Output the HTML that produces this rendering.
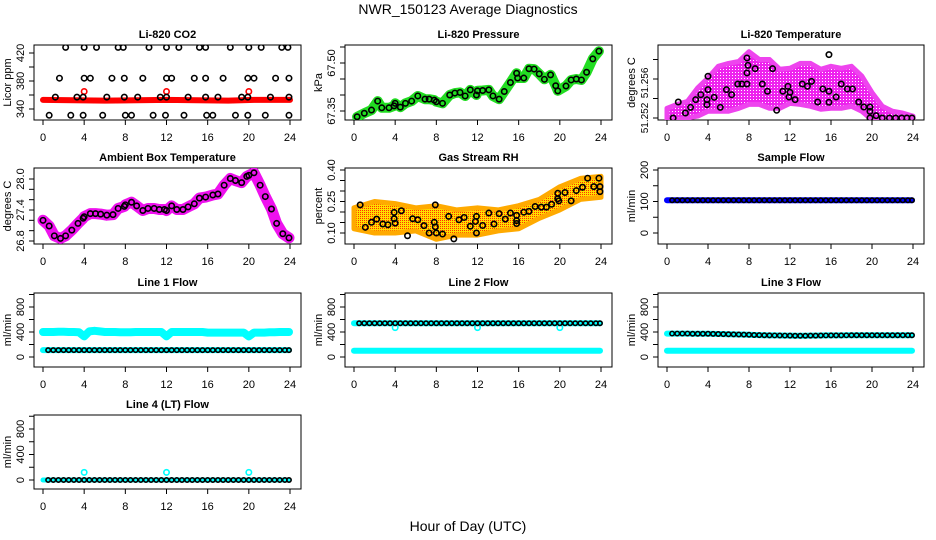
<!DOCTYPE html>
<html><head><meta charset="utf-8">
<style>
html,body{margin:0;padding:0;background:#fff;}
svg{display:block;font-family:"Liberation Sans",sans-serif;}
</style></head>
<body>
<svg id="chart" width="936" height="540" viewBox="0 0 936 540">
<defs>
<pattern id="rhpat" width="2" height="2" patternUnits="userSpaceOnUse">
<rect width="2" height="2" fill="#ffdd00"/><rect width="1" height="1" fill="#ff3300"/>
</pattern>
<pattern id="magpat" width="3" height="3" patternUnits="userSpaceOnUse">
<rect width="3" height="3" fill="#ee22ee"/><rect width="1" height="1" fill="#ffffff"/>
</pattern>
</defs>
<text x="468" y="14" text-anchor="middle" font-size="14">NWR_150123  Average Diagnostics</text>
<text x="468" y="531" text-anchor="middle" font-size="14">Hour of Day (UTC)</text>
</svg>
<script>
// ---------- data ----------
const hourTicks = [0,4,8,12,16,20,24];
// CO2
const co2BlackX = [2.2,4,5.2,7.3,7.8,10.3,12,13.2,15.2,15.8,18.2,20,21.2,23.2,23.8, 1.6,4,4.6,6.7,7.9,9.7,12,12.5,14.7,15.8,17.5,19.9,20.5,22.6,23.9, 1.2,3.3,3.9,6.2,7.9,9.2,11.4,12,14.1,15.8,17,19.3,19.9,22.1,23.9, 0.6,2.7,3.9,5.8,8,8.6,10.7,11.9,13.7,15.9,16.5,18.7,19.9,21.6,23.9];
const co2BlackY = [428,428,428,428,428,428,428,428,428,428,428,428,428,428,428, 384,384,384,384,384,384,384,384,384,384,384,384,384,384,384, 357,357,357,357,357,357,357,357,357,357,357,357,357,357,357, 331,331,331,331,331,331,331,331,331,331,331,331,331,331,331];
const co2RedLineX = [0,6,12,18,20.5,24];
const co2RedLineY = [353,352,353,352,353,353];
const co2RedPtsX = [4,12,20];
const co2RedPtsY = [365,365,365];
const co2Ticks = [340,360,380,400,420];
const co2Labels = ["340","380","420"];
// Pressure
const presX = [0.3,1,1.7,2.3,2.7,3.4,3.9,4,4.5,5,5.6,6.2,6.9,7.3,7.8,8,8.6,9.3,9.8,10.3,10.8,11.3,11.9,12,12.5,13.1,13.5,14.1,14.6,15.2,15.8,15.9,16.5,17,17.5,18,18.5,19.1,19.6,19.8,20.6,21.1,21.6,22.1,22.6,23.2,23.8];
const presY = [67.332,67.343,67.353,67.381,67.36,67.36,67.366,67.374,67.362,67.374,67.381,67.397,67.387,67.387,67.384,67.379,67.374,67.400,67.406,67.408,67.397,67.416,67.400,67.413,67.414,67.416,67.397,67.387,67.411,67.439,67.468,67.453,67.453,67.482,67.481,67.466,67.449,67.463,67.429,67.413,67.428,67.447,67.450,67.447,67.471,67.513,67.537];
const presTicks = [67.35,67.40,67.45,67.50,67.55];
const presLabels = ["67.35","67.50"];
// Li-820 temperature
const tempX = [0.6,1.1,1.8,2.3,2.8,3.3,3.9,4,3.9,4,4.6,5.2,5.8,6.3,6.9,7.3,7.8,7.8,7.9,7.8,8.6,9.3,9.8,10.3,10.7,11.3,11.8,11.9,12,12.5,13.2,13.7,14.1,14.7,15.2,15.8,15.8,15.8,16.5,17,17.6,18.1,18.7,19.2,19.8,19.8,19.8,20.4,21,21.7,22.3,22.9,23.4,23.9];
const tempY = [51.2520,51.25364,51.25251,51.25309,51.25388,51.25439,51.25388,51.25491,51.25337,51.25628,51.25412,51.25309,51.25491,51.25439,51.25549,51.25549,51.25549,51.25662,51.2574,51.25816,51.25706,51.25549,51.25474,51.25706,51.25279,51.25474,51.25525,51.25415,51.25463,51.25388,51.25549,51.25525,51.25576,51.25364,51.25498,51.2585,51.25474,51.25361,51.25415,51.25549,51.25498,51.25498,51.25364,51.25313,51.25313,51.25268,51.2520,51.25224,51.2520,51.2520,51.2520,51.2520,51.2520,51.2520];
const tempBandHours = [0,1,2,3,4,5,6,7,8,9,10,11,12,13,14,15,16,17,18,19,20,21,22,23,24];
const tempBandHi = [51.2530,51.2534,51.2537,51.2551,51.2561,51.2573,51.2576,51.2578,51.2588,51.2580,51.2580,51.2570,51.2571,51.2576,51.2576,51.2570,51.2573,51.2571,51.2573,51.2563,51.2546,51.2532,51.2527,51.2525,51.2522];
const tempBandLo = [51.2518,51.2518,51.2520,51.2522,51.2527,51.2527,51.2527,51.2530,51.2534,51.2534,51.2530,51.2530,51.2535,51.2534,51.2532,51.2529,51.2530,51.2530,51.2532,51.2527,51.2518,51.2518,51.2518,51.2518,51.2518];
const tempTicks = [51.252,51.254,51.256,51.258];
const tempLabelPos = [51.252,51.2556];
const tempLabels = ["51.252","51.256"];
// Ambient box temperature
const ambX = [0,0.6,1.1,1.7,2.2,2.8,3.4,3.9,4,4.6,5.1,5.6,6.2,6.8,7.3,7.9,8,8.6,9.1,9.7,10.2,10.8,11.3,11.8,12,12.5,13,13.6,14.1,14.7,15.2,15.8,16.5,17,17.6,18.2,18.7,19.3,19.8,20,20.5,21.1,21.6,22.2,22.7,23.3,23.9];
const ambY = [27.20,27.09,26.90,26.85,26.90,27.01,27.14,27.24,27.27,27.33,27.33,27.32,27.30,27.31,27.43,27.47,27.50,27.55,27.48,27.39,27.43,27.43,27.41,27.41,27.39,27.48,27.41,27.41,27.46,27.52,27.63,27.65,27.69,27.71,27.88,28.01,27.97,27.93,28.05,28.07,28.12,27.88,27.66,27.42,27.14,26.94,26.86];
const ambTicks = [26.8,27.0,27.2,27.4,27.6,27.8,28.0];
const ambLabels = ["26.8","27.4","28.0"];
// Gas stream RH
const rhX = [0.6,1.1,1.7,2.2,2.8,3.3,3.9,3.9,4,4.6,5.2,5.7,6.2,6.8,7.3,7.8,7.9,7.9,8,8.6,9.2,9.7,10.2,10.7,11.3,11.8,11.9,11.9,12.5,13.1,13.6,14.1,14.7,15.2,15.8,15.8,15.8,16.5,17,17.6,18.2,18.7,19.2,19.8,19.8,19.9,20.5,21.1,21.6,22.2,22.7,23.3,23.8,23.9,23.9];
const rhY = [0.234,0.127,0.151,0.166,0.143,0.139,0.168,0.198,0.147,0.206,0.087,0.168,0.163,0.135,0.10,0.151,0.234,0.129,0.10,0.095,0.179,0.072,0.163,0.174,0.132,0.155,0.179,0.10,0.136,0.195,0.143,0.192,0.166,0.195,0.184,0.159,0.145,0.199,0.203,0.226,0.223,0.223,0.237,0.263,0.289,0.253,0.293,0.253,0.302,0.318,0.361,0.321,0.361,0.321,0.297];
const rhBandHours = [0,2,4,6,8,10,12,14,16,18,20,22,24];
const rhBandHi = [0.22,0.25,0.24,0.22,0.23,0.21,0.22,0.21,0.23,0.26,0.32,0.36,0.37];
const rhBandLo = [0.12,0.10,0.10,0.11,0.07,0.09,0.09,0.11,0.12,0.17,0.21,0.26,0.27];
const rhTicks = [0.10,0.15,0.20,0.25,0.30,0.35,0.40];
const rhLabels = ["0.10","0.25","0.40"];
// Flows
const flowX = [0.5,1,1.5,2,2.5,3,3.5,4,4.5,5,5.5,6,6.5,7,7.5,8,8.5,9,9.5,10,10.5,11,11.5,12,12.5,13,13.5,14,14.5,15,15.5,16,16.5,17,17.5,18,18.5,19,19.5,20,20.5,21,21.5,22,22.5,23,23.5,23.9];
const sampleFlow = [104,104,104,104,104,104,104,104,104,104,104,104,104,104,104,104,104,104,104,104,104,104,104,104,104,104,104,104,104,104,104,104,104,104,104,104,104,104,104,104,104,104,104,104,104,104,104,104];
const line1Black = [110,110,110,110,110,110,110,110,110,110,110,110,110,110,110,110,110,110,110,110,110,110,110,110,110,110,110,110,110,110,110,110,110,110,110,110,110,110,110,110,110,110,110,110,110,110,110,110];
const line1CyanHi = [400,400,405,405,400,400,395,330,410,420,410,400,400,400,395,395,395,400,400,400,400,400,400,330,400,400,400,400,400,400,400,390,390,390,390,390,390,390,390,330,390,390,390,395,395,400,400,400];
const line2Black = [540,540,540,540,540,540,540,540,540,540,540,540,540,540,540,540,540,540,540,540,540,540,540,540,540,540,540,540,540,540,540,540,540,540,540,540,540,540,540,540,540,540,540,540,540,540,540,540];
const line2Cyan = [100,100,100,100,100,100,100,100,100,100,100,100,100,100,100,100,100,100,100,100,100,100,100,100,100,100,100,100,100,100,100,100,100,100,100,100,100,100,100,100,100,100,100,100,100,100,100,100];
const line3Black = [375,375,375,375,372,372,372,372,370,368,366,364,362,360,358,356,352,350,348,346,345,344,343,342,340,340,340,342,342,344,345,346,346,346,347,348,348,348,348,348,348,348,348,348,348,348,348,348];
const line3Cyan = [100,100,100,100,100,100,100,100,100,100,100,100,100,100,100,100,100,100,100,100,100,100,100,100,100,100,100,100,100,100,100,100,100,100,100,100,100,100,100,100,100,100,100,100,100,100,100,100];
const line4Black = [0,0,0,0,0,0,0,0,0,0,0,0,0,0,0,0,0,0,0,0,0,0,0,0,0,0,0,0,0,0,0,0,0,0,0,0,0,0,0,0,0,0,0,0,0,0,0,0];
const line4SpikeX = [4,12,20];
const line4SpikeY = [120,120,120];
const sampleTicks = [0,50,100,150,200];
const sampleLabels = ["0","100","200"];
const flowTicks = [0,200,400,600,800,1000];
const flowLabels = ["0","400","800"];

// ---------- helpers ----------
const svg = document.getElementById('chart');
const NS = 'http://www.w3.org/2000/svg';
function mk(tag, attrs, parent){
  const e = document.createElementNS(NS, tag);
  for (const k in attrs) e.setAttribute(k, attrs[k]);
  (parent||svg).appendChild(e);
  return e;
}
const cols = [[34,301],[345,612],[658,924]];
const rows = [[45,120],[168,244],[293,367],[415,489]];

function panel(col,row,title,ylab,v0,p0,v1,p1,ticks,labelPos,labels,name,lfs){
  const [L,R] = cols[col], [T,B] = rows[row];
  const g = mk('g',{});
  
  
  const xs = h => (L+9) + h*((R-11)-(L+9))/24;
  const ys = v => p0 + (v-v0)*(p1-p0)/(v1-v0);
  const box = mk('rect',{x:L,y:T,width:R-L,height:B-T,fill:'none',stroke:'#000','stroke-width':1},g);
  
  
  const t = mk('text',{x:(L+R)/2,y:T-7,'text-anchor':'middle','font-size':11,'font-weight':'bold'},g);
  t.textContent = title;
  
  
  const yl = mk('text',{transform:`translate(${L-23},${(T+B)/2}) rotate(-90)`,'text-anchor':'middle','font-size':11},g);
  yl.textContent = ylab;
  
  
  hourTicks.forEach(h=>{
    mk('line',{x1:xs(h),x2:xs(h),y1:B,y2:B+5,stroke:'#000'},g);
    const tx = mk('text',{x:xs(h),y:B+21,'text-anchor':'middle','font-size':11},g);
    tx.textContent = h;
    
    
  });
  ticks.forEach(v=>{
    const y = ys(v);
    if (y < T-1 || y > B+1) return;
    mk('line',{x1:L-5,x2:L,y1:y,y2:y,stroke:'#000'},g);
  });
  labels.forEach((s,i)=>{
    const y = ys(labelPos[i]);
    const tx = mk('text',{transform:`translate(${L-10},${y}) rotate(-90)`,'text-anchor':'middle','font-size':lfs||11},g);
    tx.textContent = s;
    
    
  });
  const clip = 'clip'+name;
  const cp = mk('clipPath',{id:clip},g);
  mk('rect',{x:L,y:T,width:R-L,height:B-T},cp);
  const inner = mk('g',{'clip-path':`url(#${clip})`},g);
  return {xs,ys,g:inner};
}
function pts(P,X,Y,color,nm,r){
  X.forEach((x,i)=>{
    const c = mk('circle',{cx:P.xs(x),cy:P.ys(Y[i]),r:r||2.7,fill:'none',stroke:color,'stroke-width':1.6},P.g);
    
    
  });
}
function line(P,X,Y,color,w,nm){
  const d = X.map((x,i)=>(i?'L':'M')+P.xs(x).toFixed(1)+','+P.ys(Y[i]).toFixed(1)).join('');
  const p = mk('path',{d,fill:'none',stroke:color,'stroke-width':w,'stroke-linejoin':'round','stroke-linecap':'round'},P.g);
  
  
}
function band(P,X,Hi,Lo,fill,edge,nm){
  let d = X.map((x,i)=>(i?'L':'M')+P.xs(x).toFixed(1)+','+P.ys(Hi[i]).toFixed(1)).join('');
  for (let i=X.length-1;i>=0;i--) d += 'L'+P.xs(X[i]).toFixed(1)+','+P.ys(Lo[i]).toFixed(1);
  const p = mk('path',{d:d+'Z',fill,stroke:edge,'stroke-width':5,'stroke-linejoin':'round'},P.g);
  
  
}

// ---------- panels ----------
let P;
P = panel(0,0,'Li-820 CO2','Licor ppm',340,109,420,53,co2Ticks,[340,380,420],co2Labels,'co2');
line(P,co2RedLineX,co2RedLineY,'#ff0000',6,'co2-red-series');
pts(P,co2RedPtsX,co2RedPtsY,'#ff0000','co2-red-point');
pts(P,co2BlackX,co2BlackY,'#000','co2-point');

P = panel(1,0,'Li-820 Pressure','kPa',67.35,111,67.50,63,presTicks,[67.35,67.50],presLabels,'pressure');
line(P,presX,presY,'#22dd22',10,'pressure-green-series');
pts(P,presX,presY,'#000','pressure-point');

P = panel(2,0,'Li-820 Temperature','degrees C',51.252,118,51.256,79,tempTicks,tempLabelPos,tempLabels,'li820-temp',10);
band(P,tempBandHours,tempBandHi,tempBandLo,'url(#magpat)','#ee44ee','li820-temp-magenta-band');
pts(P,tempX,tempY,'#000','li820-temp-point');

P = panel(0,1,'Ambient Box Temperature','degrees C',26.8,241,28.0,179,ambTicks,[26.8,27.4,28.0],ambLabels,'ambient');
line(P,ambX,ambY,'#ee11ee',11,'ambient-magenta-series');
pts(P,ambX,ambY,'#000','ambient-point');

P = panel(1,1,'Gas Stream RH','percent',0.10,233,0.40,170,rhTicks,[0.10,0.25,0.40],rhLabels,'rh');
band(P,rhBandHours,rhBandHi,rhBandLo,'url(#rhpat)','#ffaa00','rh-orange-band');
pts(P,rhX,rhY,'#000','rh-point');

P = panel(2,1,'Sample Flow','ml/min',0,233,200,170,sampleTicks,[0,100,200],sampleLabels,'sample-flow');
line(P,[0].concat(flowX),[104].concat(sampleFlow),'#0000ff',6,'sample-flow-blue-series');
pts(P,flowX,sampleFlow,'#000','sample-flow-point',2.2);

P = panel(0,2,'Line 1 Flow','ml/min',0,357,800,307,flowTicks,[0,400,800],flowLabels,'line1-flow');
line(P,[0].concat(flowX),[400].concat(line1CyanHi),'#00ffff',8,'line1-cyan-series');
line(P,[0].concat(flowX),[110].concat(line1Black),'#00ffff',6,'line1-cyan-low-series');
pts(P,flowX,line1Black,'#000','line1-flow-point',2.2);

P = panel(1,2,'Line 2 Flow','ml/min',0,357,800,307,flowTicks,[0,400,800],flowLabels,'line2-flow');
line(P,[0].concat(flowX),[100].concat(line2Cyan),'#00ffff',6,'line2-cyan-series');
line(P,[0].concat(flowX),[540].concat(line2Black),'#00ffff',6,'line2-cyan-high-series');
pts(P,[4,12,20],[470,470,470],'#00ffff','line2-cyan-dip');
pts(P,flowX,line2Black,'#000','line2-flow-point',2.2);

P = panel(2,2,'Line 3 Flow','ml/min',0,357,800,307,flowTicks,[0,400,800],flowLabels,'line3-flow');
line(P,[0].concat(flowX),[100].concat(line3Cyan),'#00ffff',6,'line3-cyan-series');
line(P,[0].concat(flowX),[375].concat(line3Black),'#00ffff',6,'line3-cyan-high-series');
pts(P,flowX,line3Black,'#000','line3-flow-point',2.2);

P = panel(0,3,'Line 4 (LT) Flow','ml/min',0,480,800,429,flowTicks,[0,400,800],flowLabels,'line4-flow');
line(P,[0].concat(flowX),[0].concat(line4Black),'#00ffff',5,'line4-cyan-series');
pts(P,line4SpikeX,line4SpikeY,'#00ffff','line4-cyan-point');
pts(P,flowX,line4Black,'#000','line4-flow-point',2.2);
</script>
</body></html>
